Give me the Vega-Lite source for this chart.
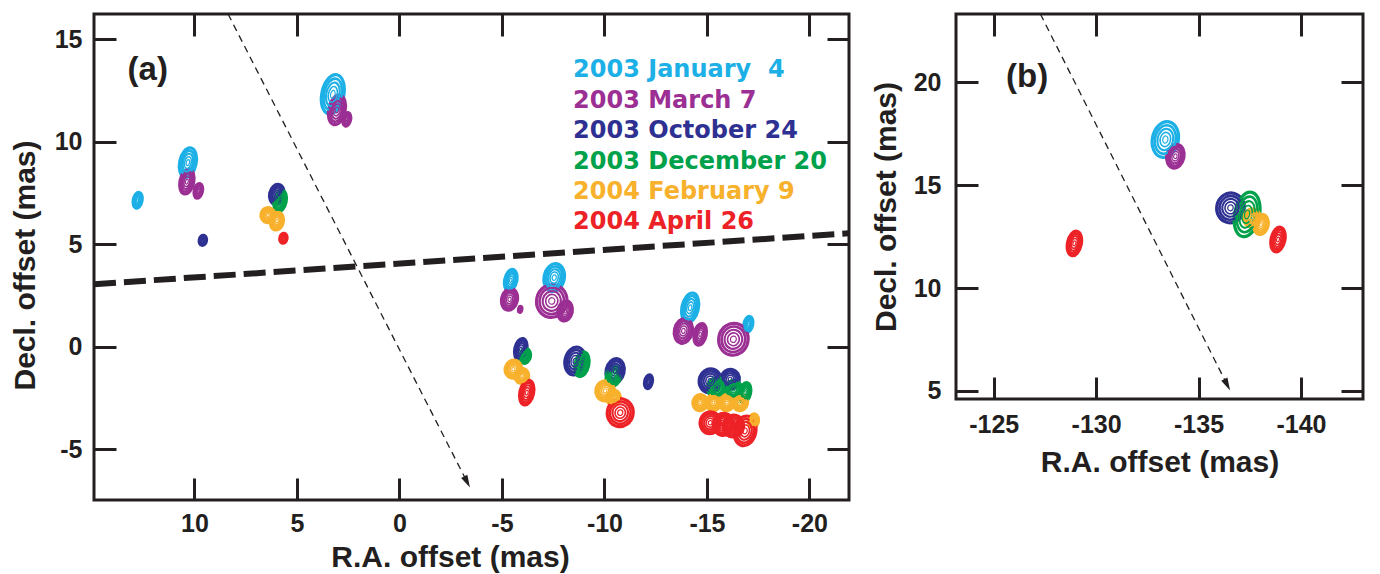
{
  "$schema": "https://vega.github.io/schema/vega-lite/v6.json",
  "background": "white",
  "autosize": {"type": "pad"},
  "padding": {"left": 8, "top": 11, "right": 8, "bottom": 0},
  "spacing": 17,
  "datasets": {
    "blobs": [
      {"panel": "a", "epoch": "2003 January \u00a04", "ra": 12.77, "dec": 7.14, "extent": 0.78, "form": "narrow"},
      {"panel": "a", "epoch": "2003 January \u00a04", "ra": 10.32, "dec": 8.98, "extent": 1.46, "form": "narrow"},
      {"panel": "a", "epoch": "2003 January \u00a04", "ra": 3.25, "dec": 12.31, "extent": 1.95, "form": "narrow"},
      {"panel": "a", "epoch": "2003 January \u00a04", "ra": -5.43, "dec": 3.24, "extent": 1.07, "form": "narrow"},
      {"panel": "a", "epoch": "2003 January \u00a04", "ra": -7.55, "dec": 3.37, "extent": 1.37, "form": "oval"},
      {"panel": "a", "epoch": "2003 January \u00a04", "ra": -14.18, "dec": 1.9, "extent": 1.46, "form": "narrow"},
      {"panel": "a", "epoch": "2003 January \u00a04", "ra": -17.02, "dec": 1.09, "extent": 0.78, "form": "narrow"},
      {"panel": "a", "epoch": "2003 March 7", "ra": 10.37, "dec": 8.05, "extent": 1.22, "form": "narrow"},
      {"panel": "a", "epoch": "2003 March 7", "ra": 9.81, "dec": 7.6, "extent": 0.73, "form": "narrow"},
      {"panel": "a", "epoch": "2003 March 7", "ra": 3.05, "dec": 11.55, "extent": 1.46, "form": "narrow"},
      {"panel": "a", "epoch": "2003 March 7", "ra": 2.57, "dec": 11.09, "extent": 0.68, "form": "narrow"},
      {"panel": "a", "epoch": "2003 March 7", "ra": -5.37, "dec": 2.31, "extent": 1.07, "form": "oval"},
      {"panel": "a", "epoch": "2003 March 7", "ra": -5.89, "dec": 1.82, "extent": 0.29, "form": "narrow"},
      {"panel": "a", "epoch": "2003 March 7", "ra": -7.43, "dec": 2.23, "extent": 1.61, "form": "round"},
      {"panel": "a", "epoch": "2003 March 7", "ra": -8.08, "dec": 1.74, "extent": 0.98, "form": "oval"},
      {"panel": "a", "epoch": "2003 March 7", "ra": -13.85, "dec": 0.77, "extent": 1.22, "form": "oval"},
      {"panel": "a", "epoch": "2003 March 7", "ra": -14.67, "dec": 0.6, "extent": 1.07, "form": "narrow"},
      {"panel": "a", "epoch": "2003 March 7", "ra": -16.29, "dec": 0.36, "extent": 1.56, "form": "round"},
      {"panel": "a", "epoch": "2003 October 24", "ra": 9.59, "dec": 5.19, "extent": 0.49, "form": "oval"},
      {"panel": "a", "epoch": "2003 October 24", "ra": 5.98, "dec": 7.43, "extent": 0.98, "form": "oval"},
      {"panel": "a", "epoch": "2003 October 24", "ra": -5.92, "dec": -0.13, "extent": 1.07, "form": "narrow"},
      {"panel": "a", "epoch": "2003 October 24", "ra": -8.57, "dec": -0.7, "extent": 1.37, "form": "oval"},
      {"panel": "a", "epoch": "2003 October 24", "ra": -10.52, "dec": -1.19, "extent": 1.22, "form": "oval"},
      {"panel": "a", "epoch": "2003 October 24", "ra": -12.15, "dec": -1.71, "extent": 0.68, "form": "narrow"},
      {"panel": "a", "epoch": "2003 October 24", "ra": -15.16, "dec": -1.67, "extent": 1.17, "form": "round"},
      {"panel": "a", "epoch": "2003 October 24", "ra": -16.13, "dec": -1.59, "extent": 0.98, "form": "round"},
      {"panel": "a", "epoch": "2003 December 20", "ra": 5.82, "dec": 7.11, "extent": 1.07, "form": "narrow"},
      {"panel": "a", "epoch": "2003 December 20", "ra": -6.13, "dec": -0.45, "extent": 0.73, "form": "oval"},
      {"panel": "a", "epoch": "2003 December 20", "ra": -8.9, "dec": -0.86, "extent": 1.22, "form": "narrow"},
      {"panel": "a", "epoch": "2003 December 20", "ra": -10.44, "dec": -1.43, "extent": 0.98, "form": "oval"},
      {"panel": "a", "epoch": "2003 December 20", "ra": -15.48, "dec": -2.0, "extent": 0.98, "form": "round"},
      {"panel": "a", "epoch": "2003 December 20", "ra": -16.29, "dec": -2.08, "extent": 0.88, "form": "round"},
      {"panel": "a", "epoch": "2003 December 20", "ra": -16.86, "dec": -2.24, "extent": 0.98, "form": "narrow"},
      {"panel": "a", "epoch": "2004 February 9", "ra": 6.42, "dec": 6.42, "extent": 0.73, "form": "round"},
      {"panel": "a", "epoch": "2004 February 9", "ra": 5.98, "dec": 6.13, "extent": 0.88, "form": "oval"},
      {"panel": "a", "epoch": "2004 February 9", "ra": -5.56, "dec": -1.1, "extent": 0.88, "form": "round"},
      {"panel": "a", "epoch": "2004 February 9", "ra": -5.97, "dec": -1.43, "extent": 0.73, "form": "round"},
      {"panel": "a", "epoch": "2004 February 9", "ra": -10.03, "dec": -2.16, "extent": 0.98, "form": "round"},
      {"panel": "a", "epoch": "2004 February 9", "ra": -10.44, "dec": -2.49, "extent": 0.73, "form": "round"},
      {"panel": "a", "epoch": "2004 February 9", "ra": -14.67, "dec": -2.73, "extent": 0.78, "form": "round"},
      {"panel": "a", "epoch": "2004 February 9", "ra": -15.32, "dec": -2.73, "extent": 0.78, "form": "round"},
      {"panel": "a", "epoch": "2004 February 9", "ra": -15.97, "dec": -2.73, "extent": 0.78, "form": "round"},
      {"panel": "a", "epoch": "2004 February 9", "ra": -16.62, "dec": -2.73, "extent": 0.78, "form": "round"},
      {"panel": "a", "epoch": "2004 February 9", "ra": -17.27, "dec": -3.62, "extent": 0.68, "form": "oval"},
      {"panel": "a", "epoch": "2004 April 26", "ra": 5.66, "dec": 5.29, "extent": 0.49, "form": "oval"},
      {"panel": "a", "epoch": "2004 April 26", "ra": -6.21, "dec": -2.24, "extent": 1.22, "form": "narrow"},
      {"panel": "a", "epoch": "2004 April 26", "ra": -10.77, "dec": -3.22, "extent": 1.37, "form": "round"},
      {"panel": "a", "epoch": "2004 April 26", "ra": -15.16, "dec": -3.71, "extent": 1.07, "form": "round"},
      {"panel": "a", "epoch": "2004 April 26", "ra": -15.8, "dec": -3.79, "extent": 1.07, "form": "round"},
      {"panel": "a", "epoch": "2004 April 26", "ra": -16.29, "dec": -3.87, "extent": 1.07, "form": "round"},
      {"panel": "a", "epoch": "2004 April 26", "ra": -16.86, "dec": -4.11, "extent": 1.46, "form": "oval"},
      {"panel": "b", "epoch": "2003 January \u00a04", "ra": -133.38, "dec": 17.22, "extent": 1.76, "form": "oval"},
      {"panel": "b", "epoch": "2003 March 7", "ra": -133.87, "dec": 16.41, "extent": 1.17, "form": "oval"},
      {"panel": "b", "epoch": "2003 October 24", "ra": -136.56, "dec": 13.9, "extent": 1.46, "form": "round"},
      {"panel": "b", "epoch": "2003 December 20", "ra": -137.37, "dec": 13.58, "extent": 2.2, "form": "narrow"},
      {"panel": "b", "epoch": "2004 February 9", "ra": -137.61, "dec": 13.41, "extent": 0.88, "form": "round"},
      {"panel": "b", "epoch": "2004 February 9", "ra": -138.05, "dec": 13.09, "extent": 0.98, "form": "oval"},
      {"panel": "b", "epoch": "2004 April 26", "ra": -138.88, "dec": 12.36, "extent": 1.22, "form": "narrow"},
      {"panel": "b", "epoch": "2004 April 26", "ra": -128.94, "dec": 12.17, "extent": 1.22, "form": "narrow"}
    ],
    "guides": [
      {"panel": "a", "kind": "boundary", "ra": 14.9, "dec": 3.05},
      {"panel": "a", "kind": "boundary", "ra": -21.93, "dec": 5.53},
      {"panel": "a", "kind": "motion", "ra": 8.36, "dec": 16.23},
      {"panel": "a", "kind": "motion", "ra": -3.3, "dec": -6.6},
      {"panel": "b", "kind": "motion", "ra": -127.28, "dec": 23.32},
      {"panel": "b", "kind": "motion", "ra": -136.4, "dec": 5.3}
    ],
    "heads": [
      {"panel": "a", "ra": -3.3, "dec": -6.6},
      {"panel": "b", "ra": -136.4, "dec": 5.3}
    ],
    "tags": [
      {"panel": "a", "tag": "(a)", "ra": 12.28, "dec": 13.5},
      {"panel": "b", "tag": "(b)", "ra": -126.63, "dec": 20.24}
    ],
    "key": [
      {"epoch": "2003 January \u00a04", "ra": -8.47, "dec": 13.16},
      {"epoch": "2003 March 7", "ra": -8.47, "dec": 11.65},
      {"epoch": "2003 October 24", "ra": -8.47, "dec": 10.18},
      {"epoch": "2003 December 20", "ra": -8.47, "dec": 8.67},
      {"epoch": "2004 February 9", "ra": -8.47, "dec": 7.2},
      {"epoch": "2004 April 26", "ra": -8.47, "dec": 5.74}
    ]
  },
  "hconcat": [
    {
      "width": 755,
      "height": 486,
      "layer": [
        {
          "data": {"name": "blobs"},
          "transform": [{"filter": "datum.panel === 'a'"}],
          "mark": {"type": "point", "filled": false, "strokeWidth": 3.2, "opacity": 1, "angle": 12},
          "encoding": {
            "x": {"field": "ra", "type": "quantitative", "scale": {"domain": [14.9, -21.93], "nice": false, "zero": false},
                  "axis": {"orient": "bottom", "values": [10, 5, 0, -5, -10, -15, -20], "title": "R.A. offset (mas)", "titleX": 356}},
            "y": {"field": "dec", "type": "quantitative", "scale": {"domain": [-7.48, 16.23], "nice": false, "zero": false},
                  "axis": {"orient": "left", "values": [15, 10, 5, 0, -5], "title": "Decl. offset (mas)", "titleY": 251}},
            "color": {"field": "epoch", "type": "nominal", "legend": null,
                      "scale": {"domain": ["2003 January \u00a04", "2003 March 7", "2003 October 24", "2003 December 20", "2004 February 9", "2004 April 26"],
                                "range": ["#1cb0e6", "#9b2f93", "#2e3192", "#00a14b", "#f8b12c", "#ed2227"]}},
            "shape": {"field": "form", "type": "nominal", "legend": null,
                      "scale": {"domain": ["narrow", "oval", "round"],
                                "range": ["M0,-1C0.304,-1 0.55,-0.552 0.55,0C0.55,0.552 0.304,1 0,1C-0.304,1 -0.55,0.552 -0.55,0C-0.55,-0.552 -0.304,-1 0,-1Z",
                                          "M0,-1C0.398,-1 0.72,-0.552 0.72,0C0.72,0.552 0.398,1 0,1C-0.398,1 -0.72,0.552 -0.72,0C-0.72,-0.552 -0.398,-1 0,-1Z",
                                          "M0,-1C0.508,-1 0.92,-0.552 0.92,0C0.92,0.552 0.508,1 0,1C-0.508,1 -0.92,0.552 -0.92,0C-0.92,-0.552 -0.508,-1 0,-1Z"]}},
            "size": {"field": "extent", "type": "quantitative", "legend": null, "scale": {"type": "pow", "exponent": 2, "domain": [0, 2], "range": [0, 1681]}}
          }
        },
        {
          "data": {"name": "blobs"},
          "transform": [{"filter": "datum.panel === 'a'"}],
          "mark": {"type": "point", "filled": false, "strokeWidth": 2.6, "opacity": 1, "angle": 12},
          "encoding": {
            "x": {"field": "ra", "type": "quantitative", "scale": {"domain": [14.9, -21.93], "nice": false, "zero": false}, "axis": null},
            "y": {"field": "dec", "type": "quantitative", "scale": {"domain": [-7.48, 16.23], "nice": false, "zero": false}, "axis": null},
            "color": {"field": "epoch", "type": "nominal", "legend": null},
            "shape": {"field": "form", "type": "nominal", "legend": null},
            "size": {"field": "extent", "type": "quantitative", "legend": null, "scale": {"type": "pow", "exponent": 2, "domain": [0, 2], "range": [0, 1076]}}
          }
        },
        {
          "data": {"name": "blobs"},
          "transform": [{"filter": "datum.panel === 'a'"}],
          "mark": {"type": "point", "filled": false, "strokeWidth": 2.1, "opacity": 1, "angle": 12},
          "encoding": {
            "x": {"field": "ra", "type": "quantitative", "scale": {"domain": [14.9, -21.93], "nice": false, "zero": false}, "axis": null},
            "y": {"field": "dec", "type": "quantitative", "scale": {"domain": [-7.48, 16.23], "nice": false, "zero": false}, "axis": null},
            "color": {"field": "epoch", "type": "nominal", "legend": null},
            "shape": {"field": "form", "type": "nominal", "legend": null},
            "size": {"field": "extent", "type": "quantitative", "legend": null, "scale": {"type": "pow", "exponent": 2, "domain": [0, 2], "range": [0, 605]}}
          }
        },
        {
          "data": {"name": "blobs"},
          "transform": [{"filter": "datum.panel === 'a'"}],
          "mark": {"type": "point", "filled": false, "strokeWidth": 1.6, "opacity": 1, "angle": 12},
          "encoding": {
            "x": {"field": "ra", "type": "quantitative", "scale": {"domain": [14.9, -21.93], "nice": false, "zero": false}, "axis": null},
            "y": {"field": "dec", "type": "quantitative", "scale": {"domain": [-7.48, 16.23], "nice": false, "zero": false}, "axis": null},
            "color": {"field": "epoch", "type": "nominal", "legend": null},
            "shape": {"field": "form", "type": "nominal", "legend": null},
            "size": {"field": "extent", "type": "quantitative", "legend": null, "scale": {"type": "pow", "exponent": 2, "domain": [0, 2], "range": [0, 269]}}
          }
        },
        {
          "data": {"name": "blobs"},
          "transform": [{"filter": "datum.panel === 'a'"}],
          "mark": {"type": "point", "filled": false, "strokeWidth": 1.2, "opacity": 1, "angle": 12},
          "encoding": {
            "x": {"field": "ra", "type": "quantitative", "scale": {"domain": [14.9, -21.93], "nice": false, "zero": false}, "axis": null},
            "y": {"field": "dec", "type": "quantitative", "scale": {"domain": [-7.48, 16.23], "nice": false, "zero": false}, "axis": null},
            "color": {"field": "epoch", "type": "nominal", "legend": null},
            "shape": {"field": "form", "type": "nominal", "legend": null},
            "size": {"field": "extent", "type": "quantitative", "legend": null, "scale": {"type": "pow", "exponent": 2, "domain": [0, 2], "range": [0, 67]}}
          }
        },
        {
          "data": {"name": "guides"},
          "transform": [{"filter": "datum.panel === 'a' && datum.kind === 'boundary'"}],
          "mark": {"type": "line", "color": "#231f20", "strokeWidth": 6, "strokeDash": [22, 8], "clip": true},
          "encoding": {
            "x": {"field": "ra", "type": "quantitative", "scale": {"domain": [14.9, -21.93], "nice": false, "zero": false}, "axis": null},
            "y": {"field": "dec", "type": "quantitative", "scale": {"domain": [-7.48, 16.23], "nice": false, "zero": false}, "axis": null}
          }
        },
        {
          "data": {"name": "guides"},
          "transform": [{"filter": "datum.panel === 'a' && datum.kind === 'motion'"}],
          "mark": {"type": "line", "color": "#231f20", "strokeWidth": 1.3, "strokeDash": [7, 5], "clip": true},
          "encoding": {
            "x": {"field": "ra", "type": "quantitative", "scale": {"domain": [14.9, -21.93], "nice": false, "zero": false}, "axis": null},
            "y": {"field": "dec", "type": "quantitative", "scale": {"domain": [-7.48, 16.23], "nice": false, "zero": false}, "axis": null}
          }
        },
        {
          "data": {"name": "heads"},
          "transform": [{"filter": "datum.panel === 'a'"}],
          "mark": {"type": "point", "filled": true, "opacity": 1, "color": "#231f20", "shape": "M0,-1L0.55,1L-0.55,1Z", "size": 160, "angle": 153},
          "encoding": {
            "x": {"field": "ra", "type": "quantitative", "scale": {"domain": [14.9, -21.93], "nice": false, "zero": false}, "axis": null},
            "y": {"field": "dec", "type": "quantitative", "scale": {"domain": [-7.48, 16.23], "nice": false, "zero": false}, "axis": null}
          }
        },
        {
          "data": {"name": "key"},
          "mark": {"type": "text", "font": "DejaVu Sans", "fontWeight": "bold", "fontSize": 24, "align": "left", "baseline": "alphabetic"},
          "encoding": {
            "x": {"field": "ra", "type": "quantitative", "scale": {"domain": [14.9, -21.93], "nice": false, "zero": false}, "axis": null},
            "y": {"field": "dec", "type": "quantitative", "scale": {"domain": [-7.48, 16.23], "nice": false, "zero": false}, "axis": null},
            "color": {"field": "epoch", "type": "nominal", "legend": null},
            "text": {"field": "epoch"}
          }
        },
        {
          "data": {"name": "tags"},
          "transform": [{"filter": "datum.panel === 'a'"}],
          "mark": {"type": "text", "font": "Liberation Sans", "fontWeight": "bold", "fontSize": 33, "color": "#231f20", "align": "center", "baseline": "middle"},
          "encoding": {
            "x": {"field": "ra", "type": "quantitative", "scale": {"domain": [14.9, -21.93], "nice": false, "zero": false},
                  "axis": {"orient": "top", "values": [10, 5, 0, -5, -10, -15, -20], "labels": false, "title": null}},
            "y": {"field": "dec", "type": "quantitative", "scale": {"domain": [-7.48, 16.23], "nice": false, "zero": false},
                  "axis": {"orient": "right", "values": [15, 10, 5, 0, -5], "labels": false, "title": null}},
            "text": {"field": "tag"}
          }
        }
      ],
      "resolve": {"scale": {"size": "independent"}, "axis": {"x": "independent", "y": "independent"}}
    },
    {
      "width": 407,
      "height": 385,
      "layer": [
        {
          "data": {"name": "blobs"},
          "transform": [{"filter": "datum.panel === 'b'"}],
          "mark": {"type": "point", "filled": false, "strokeWidth": 3.2, "opacity": 1, "angle": 12},
          "encoding": {
            "x": {"field": "ra", "type": "quantitative", "scale": {"domain": [-123.16, -143.03], "nice": false, "zero": false},
                  "axis": {"orient": "bottom", "values": [-125, -130, -135, -140], "title": "R.A. offset (mas)", "labelPadding": 35, "titlePadding": 10}},
            "y": {"field": "dec", "type": "quantitative", "scale": {"domain": [4.61, 23.32], "nice": false, "zero": false},
                  "axis": {"orient": "left", "values": [20, 15, 10, 5], "title": "Decl. offset (mas)", "labelPadding": 37, "titlePadding": 12}},
            "color": {"field": "epoch", "type": "nominal", "legend": null},
            "shape": {"field": "form", "type": "nominal", "legend": null},
            "size": {"field": "extent", "type": "quantitative", "legend": null, "scale": {"type": "pow", "exponent": 2, "domain": [0, 2], "range": [0, 1681]}}
          }
        },
        {
          "data": {"name": "blobs"},
          "transform": [{"filter": "datum.panel === 'b'"}],
          "mark": {"type": "point", "filled": false, "strokeWidth": 2.6, "opacity": 1, "angle": 12},
          "encoding": {
            "x": {"field": "ra", "type": "quantitative", "scale": {"domain": [-123.16, -143.03], "nice": false, "zero": false}, "axis": null},
            "y": {"field": "dec", "type": "quantitative", "scale": {"domain": [4.61, 23.32], "nice": false, "zero": false}, "axis": null},
            "color": {"field": "epoch", "type": "nominal", "legend": null},
            "shape": {"field": "form", "type": "nominal", "legend": null},
            "size": {"field": "extent", "type": "quantitative", "legend": null, "scale": {"type": "pow", "exponent": 2, "domain": [0, 2], "range": [0, 1076]}}
          }
        },
        {
          "data": {"name": "blobs"},
          "transform": [{"filter": "datum.panel === 'b'"}],
          "mark": {"type": "point", "filled": false, "strokeWidth": 2.1, "opacity": 1, "angle": 12},
          "encoding": {
            "x": {"field": "ra", "type": "quantitative", "scale": {"domain": [-123.16, -143.03], "nice": false, "zero": false}, "axis": null},
            "y": {"field": "dec", "type": "quantitative", "scale": {"domain": [4.61, 23.32], "nice": false, "zero": false}, "axis": null},
            "color": {"field": "epoch", "type": "nominal", "legend": null},
            "shape": {"field": "form", "type": "nominal", "legend": null},
            "size": {"field": "extent", "type": "quantitative", "legend": null, "scale": {"type": "pow", "exponent": 2, "domain": [0, 2], "range": [0, 605]}}
          }
        },
        {
          "data": {"name": "blobs"},
          "transform": [{"filter": "datum.panel === 'b'"}],
          "mark": {"type": "point", "filled": false, "strokeWidth": 1.6, "opacity": 1, "angle": 12},
          "encoding": {
            "x": {"field": "ra", "type": "quantitative", "scale": {"domain": [-123.16, -143.03], "nice": false, "zero": false}, "axis": null},
            "y": {"field": "dec", "type": "quantitative", "scale": {"domain": [4.61, 23.32], "nice": false, "zero": false}, "axis": null},
            "color": {"field": "epoch", "type": "nominal", "legend": null},
            "shape": {"field": "form", "type": "nominal", "legend": null},
            "size": {"field": "extent", "type": "quantitative", "legend": null, "scale": {"type": "pow", "exponent": 2, "domain": [0, 2], "range": [0, 269]}}
          }
        },
        {
          "data": {"name": "blobs"},
          "transform": [{"filter": "datum.panel === 'b'"}],
          "mark": {"type": "point", "filled": false, "strokeWidth": 1.2, "opacity": 1, "angle": 12},
          "encoding": {
            "x": {"field": "ra", "type": "quantitative", "scale": {"domain": [-123.16, -143.03], "nice": false, "zero": false}, "axis": null},
            "y": {"field": "dec", "type": "quantitative", "scale": {"domain": [4.61, 23.32], "nice": false, "zero": false}, "axis": null},
            "color": {"field": "epoch", "type": "nominal", "legend": null},
            "shape": {"field": "form", "type": "nominal", "legend": null},
            "size": {"field": "extent", "type": "quantitative", "legend": null, "scale": {"type": "pow", "exponent": 2, "domain": [0, 2], "range": [0, 67]}}
          }
        },
        {
          "data": {"name": "guides"},
          "transform": [{"filter": "datum.panel === 'b' && datum.kind === 'motion'"}],
          "mark": {"type": "line", "color": "#231f20", "strokeWidth": 1.3, "strokeDash": [7, 5], "clip": true},
          "encoding": {
            "x": {"field": "ra", "type": "quantitative", "scale": {"domain": [-123.16, -143.03], "nice": false, "zero": false}, "axis": null},
            "y": {"field": "dec", "type": "quantitative", "scale": {"domain": [4.61, 23.32], "nice": false, "zero": false}, "axis": null}
          }
        },
        {
          "data": {"name": "heads"},
          "transform": [{"filter": "datum.panel === 'b'"}],
          "mark": {"type": "point", "filled": true, "opacity": 1, "color": "#231f20", "shape": "M0,-1L0.55,1L-0.55,1Z", "size": 160, "angle": 153},
          "encoding": {
            "x": {"field": "ra", "type": "quantitative", "scale": {"domain": [-123.16, -143.03], "nice": false, "zero": false}, "axis": null},
            "y": {"field": "dec", "type": "quantitative", "scale": {"domain": [4.61, 23.32], "nice": false, "zero": false}, "axis": null}
          }
        },
        {
          "data": {"name": "tags"},
          "transform": [{"filter": "datum.panel === 'b'"}],
          "mark": {"type": "text", "font": "Liberation Sans", "fontWeight": "bold", "fontSize": 33, "color": "#231f20", "align": "center", "baseline": "middle"},
          "encoding": {
            "x": {"field": "ra", "type": "quantitative", "scale": {"domain": [-123.16, -143.03], "nice": false, "zero": false},
                  "axis": {"orient": "top", "values": [-125, -130, -135, -140], "labels": false, "title": null}},
            "y": {"field": "dec", "type": "quantitative", "scale": {"domain": [4.61, 23.32], "nice": false, "zero": false},
                  "axis": {"orient": "right", "values": [20, 15, 10, 5], "labels": false, "title": null}},
            "text": {"field": "tag"}
          }
        }
      ],
      "resolve": {"scale": {"size": "independent"}, "axis": {"x": "independent", "y": "independent"}}
    }
  ],
  "resolve": {"scale": {"color": "shared", "shape": "shared", "size": "independent"}},
  "config": {
    "view": {"stroke": "#231f20", "strokeWidth": 3},
    "axis": {
      "domain": false, "grid": false,
      "ticks": true, "tickSize": -22, "tickWidth": 3, "tickColor": "#231f20",
      "labelFont": "Liberation Sans", "labelFontSize": 25, "labelFontWeight": "bold", "labelColor": "#231f20",
      "labelExpr": "replace(datum.label, '\u2212', '-')",
      "titleFont": "Liberation Sans", "titleFontSize": 30, "titleFontWeight": "bold", "titleColor": "#231f20",
      "labelOverlap": false, "labelFlush": false
    },
    "axisBottom": {"labelPadding": 33, "titlePadding": 6},
    "axisLeft": {"labelPadding": 34, "titlePadding": 14}
  }
}
